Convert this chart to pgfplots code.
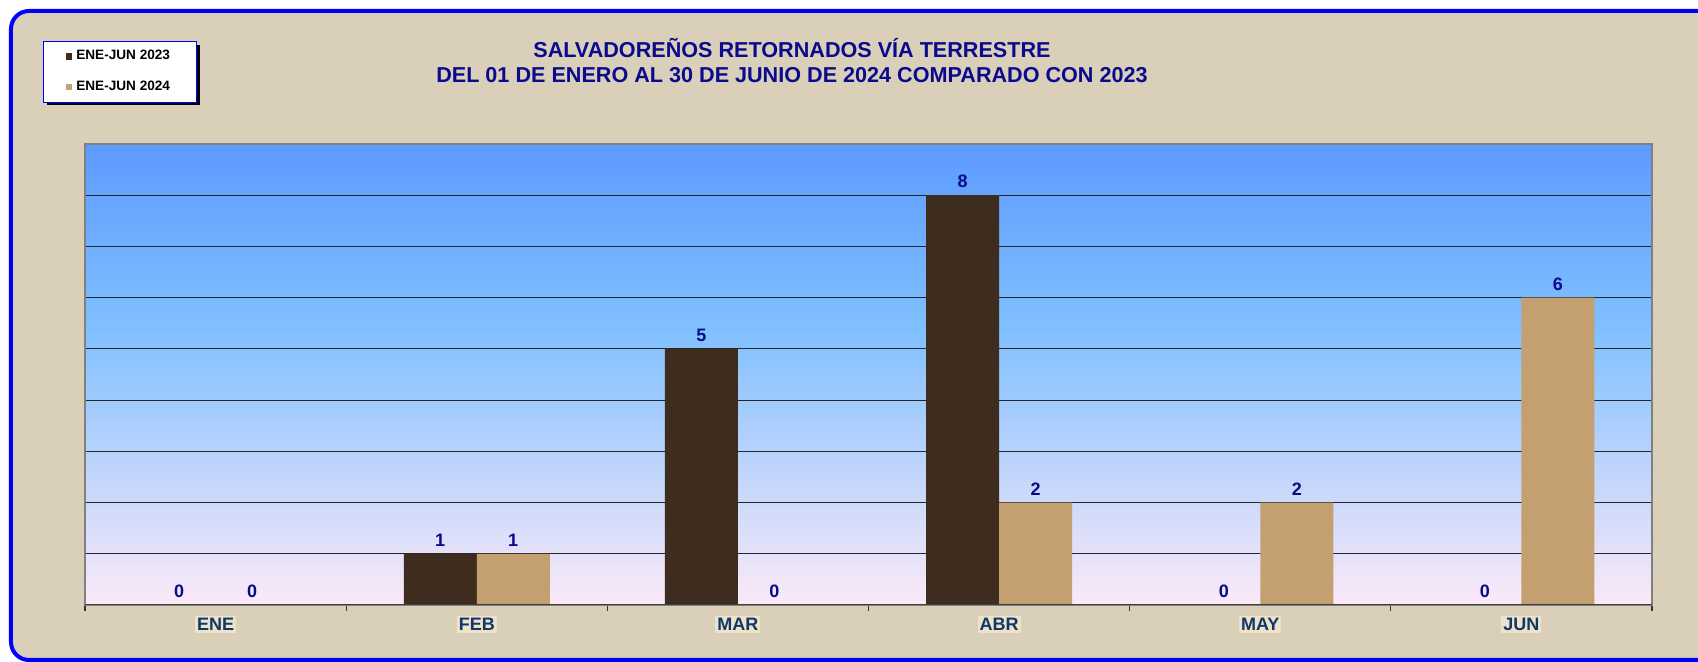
\documentclass[border=0pt]{standalone}
\usepackage{pgfplots}
\pgfplotsset{compat=1.18}
\usepackage{fontspec}
\setmainfont{Liberation Sans}
\definecolor{topblue}{RGB}{92,155,255}
\definecolor{lblue}{RGB}{128,192,255}
\definecolor{pinkbot}{RGB}{252,233,248}
\definecolor{linen}{RGB}{218,208,186}
\definecolor{wood}{RGB}{62,45,31}
\definecolor{paper}{RGB}{196,160,112}
\definecolor{navyt}{RGB}{10,10,140}
\definecolor{catblue}{RGB}{15,55,105}
\definecolor{labbg}{RGB}{238,226,200}
\pgfdeclareverticalshading{plotbg}{100bp}{color(0bp)=(pinkbot); color(25bp)=(pinkbot); color(55bp)=(lblue); color(75bp)=(topblue); color(100bp)=(topblue)}
\begin{document}
\begin{tikzpicture}
\useasboundingbox (-42.5pt,-28.5pt) rectangle (806.5pt,302.5pt);
\fill[white] (-42.5pt,-28.5pt) rectangle (806.5pt,302.5pt);
\draw[blue, line width=2pt, fill=linen, rounded corners=9pt] (-37pt,-27.5pt) rectangle (830pt,297pt);
\fill[black] (-18.8pt,250pt) rectangle (57.6pt,279.8pt);
\begin{axis}[
  at={(0,0)}, anchor=south west, scale only axis,
  width=783.5pt, height=230.5pt,
  ybar=0pt, bar width=36.5pt,
  ymin=0, ymax=9, xmin=-0.5, xmax=5.5,
  xtick={-0.5,0.5,...,5.5}, x tick label as interval,
  xticklabels={ENE,FEB,MAR,ABR,MAY,JUN},
  xtick pos=left, tick align=outside, major tick length=3pt,
  x tick style={black!80, line width=0.6pt},
  ytick={1,...,8}, yticklabels={}, ymajorgrids, y tick style={draw=none},
  grid style={black!85, line width=0.6pt},
  axis background/.style={shading=plotbg},
  axis line style={gray, line width=0.8pt},
  x tick label style={font=\bfseries\fontsize{9}{10}\selectfont, text=catblue, fill=labbg, inner sep=1pt, yshift=-2.5pt},
  nodes near coords,
  nodes near coords style={font=\bfseries\fontsize{9}{10}\selectfont, text=navyt},
  /pgf/number format/assume math mode=true,
  legend image code/.code={\fill[#1,draw=none] (0pt,-1.6pt) rectangle (3.2pt,1.6pt);},
  legend cell align=left,
  legend style={at={(axis description cs:-0.0268,1.2234)}, anchor=north west,
    draw=blue, line width=0.5pt, fill=white, font=\bfseries\fontsize{6.8}{8}\selectfont,
    inner xsep=11.2pt, inner ysep=2.4pt, row sep=5pt,
    /tikz/every even column/.append style={column sep=0.5pt}},
]
\addplot[fill=wood, draw=none] coordinates {(0,0) (1,1) (2,5) (3,8) (4,0) (5,0)};
\addplot[fill=paper, draw=none] coordinates {(0,0) (1,1) (2,0) (3,2) (4,2) (5,6)};
\legend{ENE-JUN 2023, ENE-JUN 2024}
\draw[black!75, line width=0.8pt] (rel axis cs:0,0) -- (rel axis cs:1,0);
\end{axis}
\node[text=navyt, font=\bfseries\fontsize{10.8}{12.5}\selectfont, align=center] at (353.5pt,272pt) {SALVADOREÑOS RETORNADOS VÍA TERRESTRE\\DEL 01 DE ENERO AL 30 DE JUNIO DE 2024 COMPARADO CON 2023};
\end{tikzpicture}
\end{document}
